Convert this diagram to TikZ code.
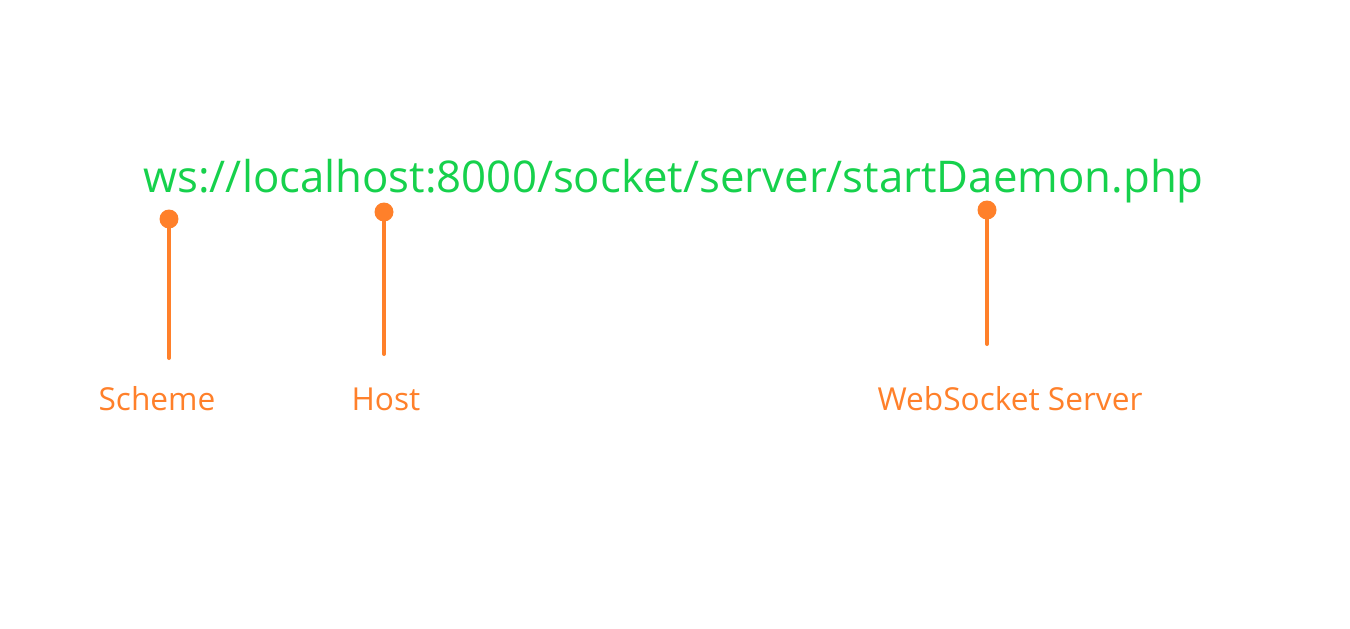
\documentclass[tikz,border=0pt]{standalone}
\usepackage{fontspec}
\setmainfont{Open Sans}
\usepackage{tikz}
\usetikzlibrary{positioning}
\definecolor{urlgreen}{RGB}{22,209,76}
\definecolor{tagorange}{RGB}{255,128,42}
\tikzset{
  urltext/.style={text=urlgreen,font=\fontsize{24.9}{30}\selectfont,inner sep=0pt},
  tagtext/.style={text=tagorange,font=\fontsize{18}{22}\selectfont,inner sep=0pt},
  tagdot/.style={circle,fill=tagorange,inner sep=0pt,minimum size=0.38cm},
  tagline/.style={draw=tagorange,line width=0.08cm}
}
\begin{document}
\begin{tikzpicture}[line cap=round,line join=round,x=0.02cm,y=-0.02cm]

\useasboundingbox (0,0) rectangle (1350,629);

\node[urltext,anchor=base west] (url) at (143,192) {ws://localhost:8000/socket/server/startDaemon.php};

\node[tagdot] (schemedot) at (169,219) {};
\node[tagdot] (hostdot) at (384,212) {};
\node[tagdot] (serverdot) at (987,210) {};

\coordinate (schemeend) at (169,358);
\coordinate (hostend) at (384,354);
\coordinate (serverend) at (987,344);

\draw[tagline] (schemedot.center) -- (schemeend);
\draw[tagline] (hostdot.center) -- (hostend);
\draw[tagline] (serverdot.center) -- (serverend);

\node[tagtext,anchor=base] (scheme) at (157,410) {Scheme};
\node[tagtext,anchor=base] (host) at (386,410) {Host};
\node[tagtext,anchor=base] (server) at (1010,410) {WebSocket Server};
\end{tikzpicture}
\end{document}
